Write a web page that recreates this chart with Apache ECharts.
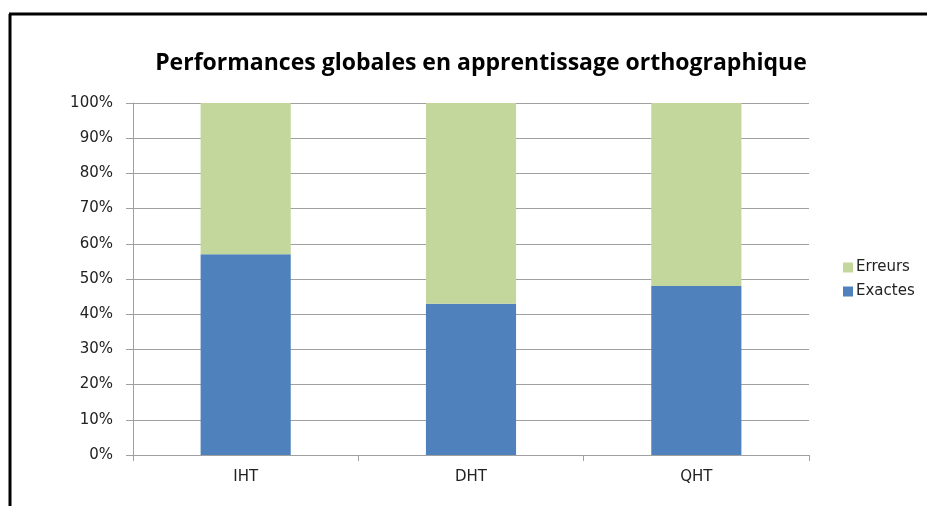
<!DOCTYPE html>
<html lang="fr">
<head>
<meta charset="UTF-8">
<title>Performances globales en apprentissage orthographique</title>
<script src="https://cdn.jsdelivr.net/npm/echarts@6/dist/echarts.min.js"></script>
<style>html,body{margin:0;padding:0;background:#fff;}</style>
</head>
<body>
<div id="main" style="width: 927px;height: 506px"></div>
<script type="text/javascript">
  var categories = ['IHT', 'DHT', 'QHT'];
  var exactes = [57, 43, 48];
  var erreurs = [43, 57, 52];
  var yTicks = [0, 10, 20, 30, 40, 50, 60, 70, 80, 90, 100];

  var myChart = echarts.init(document.getElementById('main'));
  var labelFont = {color: '#222', fontFamily: 'DejaVu Sans', fontSize: 15};
  var option = {
    animation: false,
    backgroundColor: '#fff',
    title: {
      text: 'Performances globales en apprentissage orthographique',
      left: 476,
      textAlign: 'center',
      top: 47,
      textStyle: {fontFamily: 'Open Sans', fontWeight: 'bold', fontSize: 23, color: '#000'}
    },
    graphic: [
      {type: 'line', shape: {x1: 10, y1: 14, x2: 10, y2: 510}, style: {stroke: '#000', lineWidth: 3}},
      {type: 'line', shape: {x1: 9, y1: 14, x2: 930, y2: 14}, style: {stroke: '#000', lineWidth: 3}}
    ],
    legend: {
      orient: 'vertical',
      left: 838,
      top: 255,
      itemWidth: 10,
      itemHeight: 10,
      itemGap: 9,
      icon: 'rect',
      data: ['Erreurs', 'Exactes'],
      textStyle: {color: '#222', fontFamily: 'DejaVu Sans', fontSize: 15, padding: [0, 0, 0, -2]}
    },
    grid: {left: 133, right: 118, top: 103, bottom: 51},
    xAxis: {
      type: 'category',
      data: categories,
      axisLine: {lineStyle: {color: '#a0a0a0'}},
      axisTick: {show: true, length: 6, lineStyle: {color: '#a0a0a0'}},
      axisLabel: Object.assign({margin: 15}, labelFont)
    },
    yAxis: {
      type: 'value',
      min: 0,
      max: 100,
      interval: 10,
      axisLine: {show: true, lineStyle: {color: '#a0a0a0'}},
      axisTick: {show: true, length: 7, lineStyle: {color: '#a0a0a0'}},
      splitLine: {lineStyle: {color: '#a0a0a0'}},
      axisLabel: Object.assign({
        margin: 20,
        customValues: yTicks,
        formatter: '{value}%'
      }, labelFont)
    },
    series: [
      {
        name: 'Exactes', type: 'bar', stack: 'total', data: exactes, barWidth: '40%',
        itemStyle: {color: '#4f81bd'}
      },
      {
        name: 'Erreurs', type: 'bar', stack: 'total', data: erreurs, barWidth: '40%',
        itemStyle: {color: '#c3d69b'}
      }
    ]
  };
  myChart.setOption(option);
</script>
</body>
</html>
